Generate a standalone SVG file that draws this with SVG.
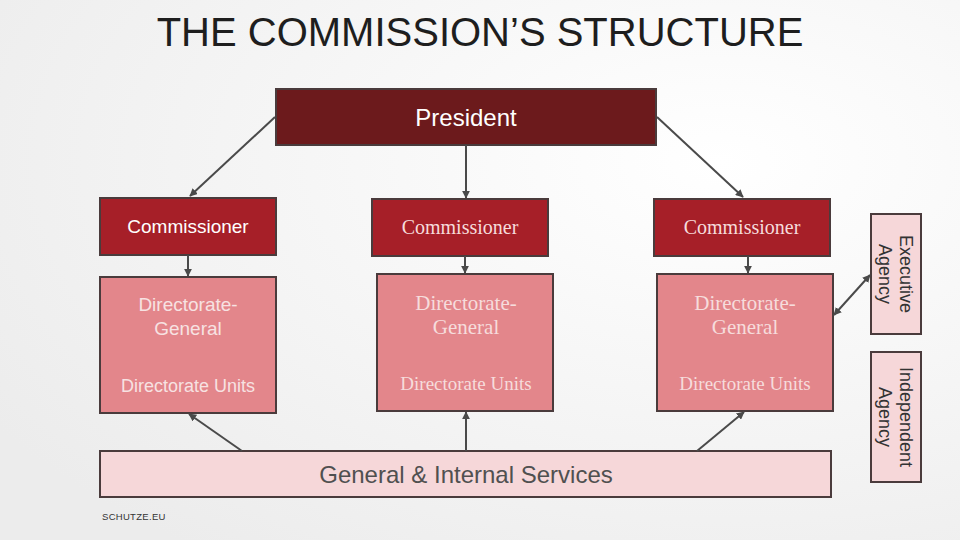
<svg xmlns="http://www.w3.org/2000/svg" width="960" height="540" viewBox="0 0 960 540">
<defs>
<radialGradient id="bg" cx="0.75" cy="0.3" r="0.9">
<stop offset="0" stop-color="#ffffff"/>
<stop offset="1" stop-color="#ececec"/>
</radialGradient>
<marker id="ah" viewBox="0 0 10 10" refX="9" refY="5" markerWidth="4" markerHeight="4" orient="auto-start-reverse">
<path d="M0,0 L10,5 L0,10 z" fill="#4a4a4a"/>
</marker>
<style>
.box{stroke:#4a3b3c;stroke-width:2}
.pres{fill:#6c1a1c}
.comm{fill:#a61f28}
.dg{fill:#e3868b}
.light{fill:#f6d7d9}
.sans{font-family:"Liberation Sans",Arial,sans-serif}
.serif{font-family:"Liberation Serif","Times New Roman",serif}
.wt{fill:#ffffff}
.st{fill:#f7e2e2}
.sr{fill:#f6dcdc}
.dk{fill:#505050}
.conn line{stroke:#4a4a4a;stroke-width:2;marker-end:url(#ah)}
</style>
</defs>
<rect width="960" height="540" fill="url(#bg)"/>
<text x="480" y="46" text-anchor="middle" class="sans" font-size="40" fill="#1e1e1e">THE COMMISSION’S STRUCTURE</text>

<g id="president">
<rect class="box pres" x="276" y="89" width="380" height="56"/>
<text x="466" y="126" text-anchor="middle" class="sans wt" font-size="24">President</text>
</g>

<g id="commissioner-left">
<rect class="box comm" x="100" y="198" width="176" height="57"/>
<text x="188" y="233" text-anchor="middle" class="sans wt" font-size="19">Commissioner</text>
</g>
<g id="commissioner-mid">
<rect class="box comm" x="372" y="199" width="176" height="57"/>
<text x="460" y="234" text-anchor="middle" class="serif sr" font-size="20">Commissioner</text>
</g>
<g id="commissioner-right">
<rect class="box comm" x="654" y="199" width="176" height="57"/>
<text x="742" y="234" text-anchor="middle" class="serif sr" font-size="20">Commissioner</text>
</g>

<g id="dg-left">
<rect class="box dg" x="100" y="277" width="176" height="136"/>
<text x="188" y="311" text-anchor="middle" class="sans st" font-size="19">Directorate-</text>
<text x="188" y="335" text-anchor="middle" class="sans st" font-size="19">General</text>
<text x="188" y="392" text-anchor="middle" class="sans st" font-size="18">Directorate Units</text>
</g>
<g id="dg-mid">
<rect class="box dg" x="377" y="274" width="176" height="137"/>
<text x="466" y="310" text-anchor="middle" class="serif sr" font-size="21">Directorate-</text>
<text x="466" y="334" text-anchor="middle" class="serif sr" font-size="21">General</text>
<text x="466" y="390" text-anchor="middle" class="serif sr" font-size="19">Directorate Units</text>
</g>
<g id="dg-right">
<rect class="box dg" x="657" y="274" width="176" height="137"/>
<text x="745" y="310" text-anchor="middle" class="serif sr" font-size="21">Directorate-</text>
<text x="745" y="334" text-anchor="middle" class="serif sr" font-size="21">General</text>
<text x="745" y="390" text-anchor="middle" class="serif sr" font-size="19">Directorate Units</text>
</g>

<g id="executive-agency">
<rect class="box light" x="871" y="214" width="50" height="120"/>
<g transform="translate(896,274) rotate(90)">
<text x="0" y="-4" text-anchor="middle" class="sans" fill="#333" font-size="18">Executive</text>
<text x="0" y="17" text-anchor="middle" class="sans" fill="#333" font-size="18">Agency</text>
</g>
</g>
<g id="independent-agency">
<rect class="box light" x="871" y="352" width="50" height="130"/>
<g transform="translate(896,417) rotate(90)">
<text x="0" y="-4" text-anchor="middle" class="sans" fill="#333" font-size="18">Independent</text>
<text x="0" y="17" text-anchor="middle" class="sans" fill="#333" font-size="18">Agency</text>
</g>
</g>

<g id="services">
<rect class="box light" x="100" y="451" width="731" height="46"/>
<text x="466" y="483" text-anchor="middle" class="sans dk" font-size="24">General &amp; Internal Services</text>
</g>

<text x="102" y="520" class="sans" fill="#333" font-size="9.5" letter-spacing="0.3">SCHUTZE.EU</text>

<g id="connectors" class="conn">
<line x1="275" y1="117" x2="190" y2="196"/>
<line x1="466" y1="145" x2="466" y2="198"/>
<line x1="657" y1="117" x2="743" y2="197"/>
<line x1="188" y1="255" x2="188" y2="276"/>
<line x1="465" y1="256" x2="465" y2="273"/>
<line x1="748" y1="256" x2="748" y2="273"/>
<line x1="242" y1="451" x2="189" y2="414"/>
<line x1="466" y1="451" x2="466" y2="412"/>
<line x1="697" y1="451" x2="744" y2="412"/>
<line x1="834" y1="315" x2="870" y2="275" style="marker-start:url(#ah)"/>
</g>
</svg>
